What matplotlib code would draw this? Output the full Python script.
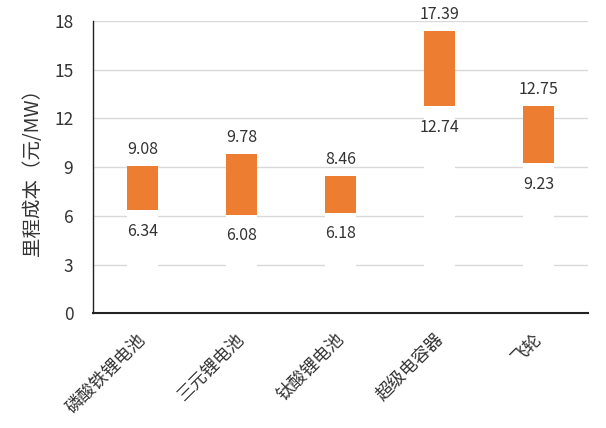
import numpy as np
import matplotlib
matplotlib.use("Agg")
import matplotlib.pyplot as plt

plt.rcParams['font.family'] = ['Noto Sans CJK SC', 'DejaVu Sans']

categories = ["磷酸铁锂电池", "三元锂电池", "钛酸锂电池", "超级电容器", "飞轮"]
low = [6.34, 6.08, 6.18, 12.74, 9.23]
high = [9.08, 9.78, 8.46, 17.39, 12.75]

x = np.arange(len(categories))
span = [h - l for h, l in zip(high, low)]

fig = plt.figure(figsize=(6.06, 4.28), dpi=100)
ax = fig.add_axes([0.153, 0.268, 0.818, 0.683])

# white base bars hide the gridlines, like Excel's stacked trick
ax.bar(x, low, width=0.31, color="white", zorder=2)
ax.bar(x, span, bottom=low, width=0.31, color="#ED7D31", zorder=3)

for xi, l, h in zip(x, low, high):
    ax.text(xi, h + 0.5, f"{h:.2f}", ha="center", va="bottom",
            fontsize=11.5, color="#333333", zorder=4)
    ax.text(xi, l - 0.75, f"{l:.2f}", ha="center", va="top",
            fontsize=11.5, color="#333333", zorder=4)

ax.set_xlim(-0.5, len(categories) - 0.5)
ax.set_ylim(0, 18)
ax.set_yticks(np.arange(0, 19, 3))
ax.yaxis.grid(True, color="#D9D9D9", linewidth=1, zorder=0)
ax.set_axisbelow(True)

# tick marks are hidden, so nudge label anchors slightly left
ax.set_xticks(x - 0.06)
ax.set_xticklabels(categories, rotation=45, ha="right", rotation_mode="anchor",
                   fontsize=12.5, color="#333333")
ax.tick_params(axis="both", length=0, colors="#333333")
ax.tick_params(axis="y", pad=14, labelsize=12.5)
ax.tick_params(axis="x", pad=12)

ax.set_ylabel("里程成本（元/MW）", fontsize=14, color="#333333", labelpad=8)

for side in ["top", "right"]:
    ax.spines[side].set_visible(False)
ax.spines["left"].set_color("#222222")
ax.spines["bottom"].set_color("#222222")
ax.spines["left"].set_linewidth(1.0)
ax.spines["bottom"].set_linewidth(1.5)

fig.savefig("out.png", dpi=100, facecolor="white")
